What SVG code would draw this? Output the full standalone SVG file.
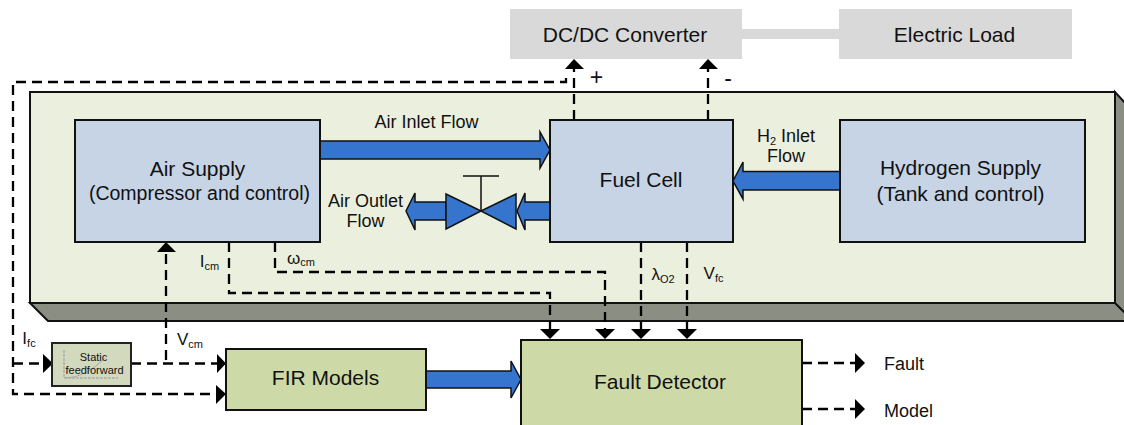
<svg xmlns="http://www.w3.org/2000/svg" width="1124" height="425" viewBox="0 0 1124 425">
<style>
text{font-family:"Liberation Sans",Arial,sans-serif;fill:#111;text-anchor:middle}
.t18{font-size:21px}.t15{font-size:18px}.t16{font-size:17px}
.box{stroke:#111;stroke-width:2}
.blue{fill:#3575cd;stroke:#111;stroke-width:1.5;stroke-linejoin:miter}
.gray{fill:#d9d9d9}
.d{fill:none;stroke:#000;stroke-width:2.3;stroke-dasharray:10 6}
.h{fill:#000}
.sub{font-size:11px}
</style>
<rect width="1124" height="425" fill="#fff"/>
<g id="platform">
<path d="M30,303H1115V92L1126,104V321H48Z" fill="#8b8e82" stroke="#111" stroke-width="2"/>
<rect x="30" y="92" width="1085" height="211" fill="#ebefdd" stroke="#111" stroke-width="2"/>
<path d="M1115,303L1126,314" stroke="#111" stroke-width="2"/>
</g>
<g id="connectors">
<rect x="742" y="29" width="97" height="10" fill="#d9d9d9"/>
<path class="d" d="M566,78V82H13V394H217"/>
<path class="d" d="M13,363.500H44"/>
<path class="d" d="M131,363.500H217"/>
<path class="d" d="M166,360V252"/>
<path class="d" d="M229,242V293H550V330"/>
<path class="d" d="M275,242V272H605V330"/>
<path class="d" d="M641,242V330"/>
<path class="d" d="M687,242V330"/>
<path class="d" d="M574,120V68"/>
<path class="d" d="M708,120V68"/>
<path class="d" d="M802,363H855"/>
<path class="d" d="M802,409H855"/>
<path class="h" d="M574,59L584,69H565Z"/>
<path class="h" d="M708,59L718,69H699Z"/>
<path class="h" d="M166,242L176,252H157Z"/>
<path class="h" d="M550,339L540,329H560Z"/>
<path class="h" d="M605,339L595,329H615Z"/>
<path class="h" d="M641,339L631,329H651Z"/>
<path class="h" d="M687,339L677,329H697Z"/>
<path class="h" d="M53,363.500L43,354V373Z"/>
<path class="h" d="M226,363.500L217,354V373Z"/>
<path class="h" d="M226,394L216,385V404Z"/>
<path class="h" d="M865,363L855,353V373Z"/>
<path class="h" d="M865,409L855,399V419Z"/>
<path class="blue" d="M320,141H540V132L550,150L540,168V159H320Z"/>
<path class="blue" d="M840,171.500H743V162L733,181L743,199V190H840Z"/>
<path class="blue" d="M550,202H525V193L517,211L525,230V220H550Z"/>
<path class="blue" d="M446,202H415V193L406,211L415,230V220H446Z"/>
<path class="blue" d="M426,371H511V361L521,379.500L511,398V388H426Z"/>
</g>
<g id="valve">
<path class="blue" d="M481,211L446,194V229Z"/>
<path class="blue" d="M481,211L516,194V229Z"/>
<path d="M481,211V176M463,176H499" fill="none" stroke="#111" stroke-width="1.500"/>
</g>
<g id="dcdc"><rect class="gray" x="510" y="9" width="232" height="50"/><text class="t18" x="625" y="42">DC/DC Converter</text></g>
<g id="load"><rect class="gray" x="839" y="9" width="233" height="50"/><text class="t18" x="954.500" y="42">Electric Load</text></g>
<g id="air-supply"><rect class="box" x="75" y="120" width="245" height="122" fill="#c6d4e6"/><text class="t18" x="197.500" y="176">Air Supply</text><text x="199.500" y="200" font-size="19.500px">(Compressor and control)</text></g>
<g id="fuel-cell"><rect class="box" x="550" y="120" width="183" height="122" fill="#c6d4e6"/><text class="t18" x="641" y="187">Fuel Cell</text></g>
<g id="hydrogen"><rect class="box" x="840" y="120" width="245" height="122" fill="#c6d4e6"/><text class="t18" x="960.500" y="175">Hydrogen Supply</text><text class="t18" x="960.500" y="201">(Tank and control)</text></g>
<g id="static"><rect x="52" y="343" width="79" height="43" fill="#d3d9bd" stroke="#222" stroke-width="2"/>
<path d="M64,350V378H118" fill="none" stroke="#999" stroke-width="1" stroke-dasharray="3 1"/>
<path d="M65,378Q85,378 105,358" fill="none" stroke="#aaa" stroke-width="1"/>
<text x="93.500" y="361" font-size="11px">Static</text><text x="94.500" y="374" font-size="11px">feedforward</text></g>
<g id="fir"><rect class="box" x="226" y="349" width="200" height="61" fill="#cddaa8"/><text class="t18" x="325.500" y="385">FIR Models</text></g>
<g id="fault"><rect class="box" x="521" y="340" width="281" height="90" fill="#cddaa8"/><text class="t18" x="660" y="389">Fault Detector</text></g>
<g id="labels">
<text class="t15" x="426.500" y="128">Air Inlet Flow</text>
<text class="t15" x="365.500" y="207">Air Outlet</text><text class="t15" x="365.500" y="227">Flow</text>
<text class="t15" x="786" y="142">H<tspan class="sub" dy="3" font-size="12">2</tspan><tspan dy="-3"> Inlet</tspan></text><text class="t15" x="786" y="162">Flow</text>
<text x="596.500" y="85" font-size="23px">+</text><text x="728" y="86" font-size="23px">-</text>
<text class="t16" x="209.500" y="267">I<tspan class="sub" dy="3">cm</tspan></text>
<text class="t16" x="301" y="264" font-family="'DejaVu Sans',sans-serif">ω<tspan class="sub" dy="2">cm</tspan></text>
<text class="t16" x="663" y="280">λ<tspan class="sub" dy="3">O2</tspan></text>
<text class="t16" x="713.500" y="279">V<tspan class="sub" dy="3">fc</tspan></text>
<text class="t16" x="29" y="344">I<tspan class="sub" dy="3">fc</tspan></text>
<text class="t16" x="190" y="345">V<tspan class="sub" dy="3">cm</tspan></text>
<text class="t15" x="884" y="370" style="text-anchor:start">Fault</text>
<text class="t15" x="884" y="417" style="text-anchor:start">Model</text>
</g>
</svg>
